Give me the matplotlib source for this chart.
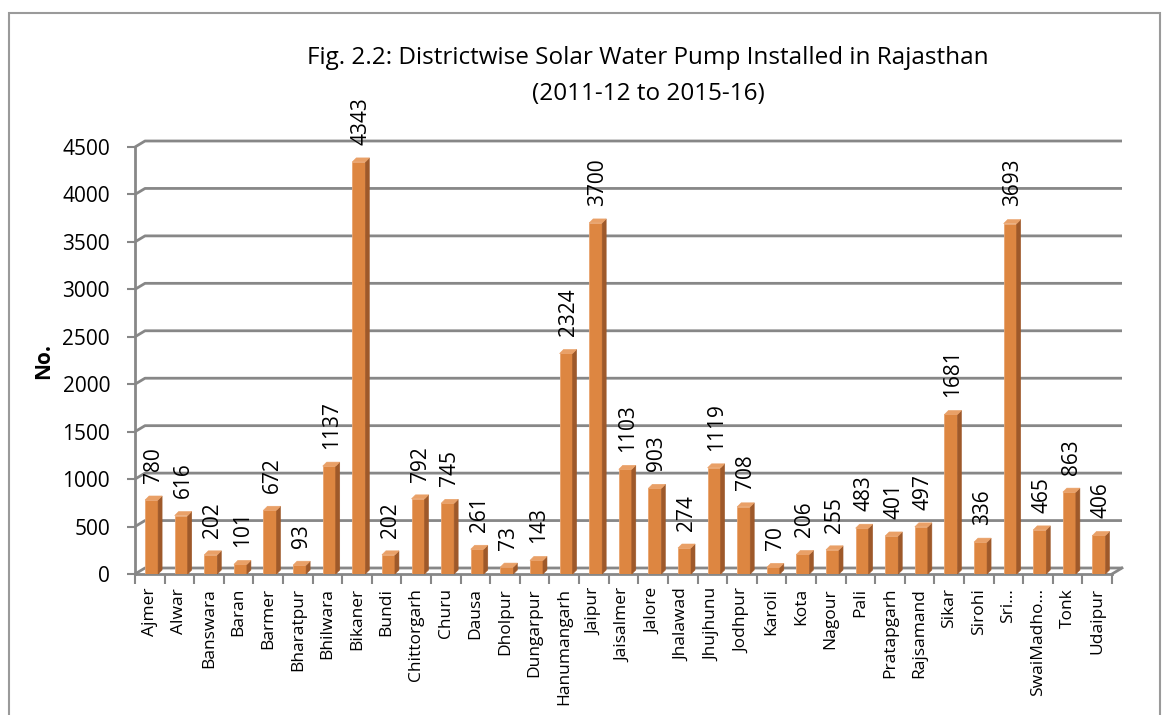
import matplotlib
matplotlib.use("Agg")
import matplotlib.pyplot as plt
from matplotlib.patches import Polygon, Rectangle

plt.rcParams["font.family"] = ["Open Sans", "DejaVu Sans"]

# ---- data -------------------------------------------------------------
districts = [
    "Ajmer", "Alwar", "Banswara", "Baran", "Barmer", "Bharatpur", "Bhilwara",
    "Bikaner", "Bundi", "Chittorgarh", "Churu", "Dausa", "Dholpur",
    "Dungarpur", "Hanumangarh", "Jaipur", "Jaisalmer", "Jalore", "Jhalawad",
    "Jhujhunu", "Jodhpur", "Karoli", "Kota", "Nagour", "Pali", "Pratapgarh",
    "Rajsamand", "Sikar", "Sirohi", "Sri\u2026", "SwaiMadho\u2026", "Tonk",
    "Udaipur",
]
pumps = [
    780, 616, 202, 101, 672, 93, 1137, 4343, 202, 792, 745, 261, 73, 143,
    2324, 3700, 1103, 903, 274, 1119, 708, 70, 206, 255, 483, 401, 497,
    1681, 336, 3693, 465, 863, 406,
]
y_ticks = list(range(0, 4501, 500))

# ---- style --------------------------------------------------------------
FRONT = "#DD8641"
SIDE = "#9E592A"
TOP = "#E9A067"
GRID = "#878787"
INK = "#000000"

W_PX, H_PX = 1163, 715
fig = plt.figure(figsize=(W_PX / 100, H_PX / 100), dpi=100)

# front plane of the 3D box, in pixels
AX_L, AX_R, AX_B, AX_T = 135, 1112, 574, 147
ax = fig.add_axes([AX_L / W_PX, 1 - AX_B / H_PX,
                   (AX_R - AX_L) / W_PX, (AX_B - AX_T) / H_PX])
n = len(districts)
ax.set_xlim(-0.5, n - 0.5)
ax.set_ylim(0, 4500)

# pixel -> data conversion for depth offsets
ux = n / (AX_R - AX_L)
uy = 4500 / (AX_B - AX_T)
DX, DY = 10 * ux, 6 * uy          # wall depth
BDX, BDY = 4 * ux, 4 * uy         # bar depth

# back wall gridlines + floor
x0, x1 = -0.5, n - 0.5
for t in y_ticks:
    ax.plot([x0, x0 + DX, x1 + DX], [t, t + DY, t + DY], color=GRID,
            lw=2.0, zorder=1, clip_on=False, solid_capstyle="butt")
ax.plot([x1, x1 + DX], [0, DY], color=GRID, lw=2.0, zorder=1, clip_on=False)

# bars
xs = [i + 0.06 for i in range(n)]
bars = ax.bar(xs, pumps, width=0.44, color=FRONT, edgecolor="#E9A36E",
              linewidth=0.6, zorder=3)
for rect, v in zip(bars, pumps):
    bx0 = rect.get_x()
    bx1 = bx0 + rect.get_width()
    h = rect.get_height()
    ax.add_patch(Polygon([(bx1, 0), (bx1 + BDX, BDY), (bx1 + BDX, h + BDY),
                          (bx1, h)], closed=True, facecolor=SIDE,
                         edgecolor=SIDE, lw=0.4, zorder=3))
    ax.add_patch(Polygon([(bx0, h), (bx0 + BDX, h + BDY),
                          (bx1 + BDX, h + BDY), (bx1, h)], closed=True,
                         facecolor=TOP, edgecolor=TOP, lw=0.4, zorder=3))
    ax.annotate(str(v), xy=(bx0 + rect.get_width() / 2 + BDX / 2, h + BDY),
                xytext=(0, 9.5), textcoords="offset points", rotation=90,
                ha="center", va="bottom", fontsize=15, color=INK,
                annotation_clip=False, zorder=5)

# axes styling
for s in ("top", "right"):
    ax.spines[s].set_visible(False)
for s in ("left", "bottom"):
    ax.spines[s].set_color(GRID)
    ax.spines[s].set_linewidth(2.0)
    ax.spines[s].set_zorder(2)

ax.set_yticks(y_ticks)
ax.tick_params(axis="y", length=6, width=1.5, color=GRID, pad=12,
               labelsize=15, labelcolor=INK)
ax.set_xticks(range(n))
ax.set_xticklabels(districts, rotation=90, fontsize=12.5)
ax.tick_params(axis="x", which="major", length=0, pad=10)
ax.set_xticks([i - 0.5 for i in range(n + 1)], minor=True)
ax.tick_params(axis="x", which="minor", length=7, width=1.5, color=GRID)
ax.set_facecolor("none")

fig.text(44 / W_PX, 1 - 361 / H_PX, "No.", rotation=90, ha="center",
         va="center", fontsize=15, fontweight="bold")

fig.text(648 / W_PX, 1 - 58 / H_PX,
         "Fig. 2.2: Districtwise Solar Water Pump Installed in Rajasthan",
         ha="center", va="center", fontsize=17.5)
fig.text(648 / W_PX, 1 - 94 / H_PX, "(2011-12 to 2015-16)",
         ha="center", va="center", fontsize=17.5)

# outer chart border
fig.add_artist(Rectangle((9 / W_PX, -0.02), (1160 - 9) / W_PX,
                         1 - 13 / H_PX + 0.02, transform=fig.transFigure,
                         fill=False, edgecolor="#9A9A9A", lw=1.5))

fig.savefig("out.png", dpi=100)
